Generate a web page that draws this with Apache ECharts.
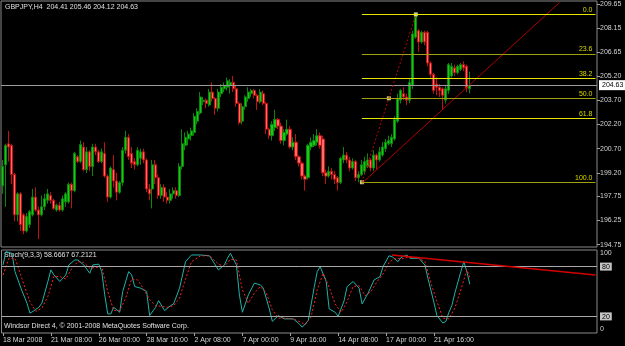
<!DOCTYPE html>
<html>
<head>
<meta charset="utf-8">
<script src="https://cdn.jsdelivr.net/npm/echarts@6/dist/echarts.min.js"></script>
<style>
html, body { margin: 0; padding: 0; background: #000; }
#main { width: 625px; height: 346px; }
</style>
</head>
<body>
<div id="main"></div>
<script>
// GBPJPY H4 bars: [open, high, low, close]
var ohlc = [
  [198.4, 200.0, 197.9, 199.6], [199.7, 201.0, 197.1, 200.9], [201.0, 201.8, 199.9, 200.8], [200.9, 201.0, 198.5, 199.1],
  [199.1, 199.2, 196.2, 196.6], [196.6, 198.0, 196.2, 197.9], [197.9, 198.0, 195.6, 196.0], [196.6, 196.7, 195.4, 195.6],
  [195.6, 196.7, 195.5, 196.5], [196.0, 196.9, 195.8, 196.8], [196.6, 198.2, 196.5, 197.7], [197.7, 198.3, 196.8, 196.9],
  [196.9, 197.1, 195.1, 196.6], [196.6, 197.8, 196.5, 197.1], [197.1, 197.9, 196.9, 197.6], [197.5, 198.2, 197.3, 197.9],
  [197.8, 198.0, 197.3, 197.5], [197.5, 197.6, 196.9, 197.0], [196.9, 197.3, 196.8, 197.2], [197.2, 197.4, 196.8, 196.9],
  [196.9, 197.8, 196.8, 197.6], [197.4, 198.0, 197.1, 197.9], [197.4, 198.6, 197.3, 198.5], [198.5, 198.6, 197.0, 198.1],
  [198.1, 200.5, 198.0, 200.4], [200.2, 200.3, 199.8, 199.9], [199.9, 201.2, 199.8, 200.95], [200.8, 201.1, 199.3, 199.4],
  [199.4, 200.8, 199.2, 200.5], [200.5, 200.6, 199.3, 199.6], [199.6, 201.0, 199.0, 200.8], [200.8, 201.0, 200.3, 200.5],
  [200.5, 200.6, 199.8, 199.9], [199.9, 200.7, 199.8, 200.5], [200.4, 201.1, 198.9, 199.0], [199.0, 199.1, 197.4, 197.7],
  [197.7, 199.6, 197.6, 199.5], [199.4, 200.3, 198.3, 198.7], [198.7, 199.2, 197.5, 198.0], [198.0, 198.7, 197.9, 198.6],
  [198.6, 200.8, 198.4, 200.6], [200.6, 201.8, 200.4, 201.4], [201.4, 201.6, 200.0, 200.2], [200.4, 200.8, 199.5, 199.8],
  [199.9, 200.1, 199.4, 199.7], [199.7, 200.8, 199.6, 200.6], [200.1, 200.7, 199.7, 200.5], [200.5, 200.7, 199.8, 200.0],
  [200.0, 200.1, 198.0, 198.2], [198.2, 198.5, 197.5, 197.9], [198.2, 200.0, 197.0, 199.7], [199.7, 200.0, 198.5, 198.9],
  [198.9, 199.1, 197.6, 197.8], [197.8, 198.5, 197.6, 198.3], [198.3, 198.5, 197.4, 197.7], [197.7, 198.0, 197.3, 197.5],
  [197.5, 198.2, 197.3, 197.9], [197.9, 198.3, 197.6, 198.1], [198.1, 198.3, 197.6, 197.8], [197.8, 199.8, 197.7, 199.6],
  [199.6, 201.9, 199.4, 201.0], [200.9, 201.7, 200.6, 201.4], [201.3, 201.8, 200.9, 201.6], [201.5, 202.0, 201.2, 201.8],
  [201.7, 202.9, 201.5, 202.7], [202.4, 203.2, 202.2, 203.0], [202.9, 204.2, 202.8, 203.9], [203.6, 203.9, 203.4, 203.7],
  [203.7, 203.8, 203.2, 203.5], [203.4, 204.4, 203.3, 204.2], [204.2, 204.8, 203.6, 203.8], [203.8, 203.9, 202.8, 203.2],
  [203.2, 204.4, 203.0, 204.2], [204.1, 204.7, 203.9, 204.5], [204.4, 204.8, 204.2, 204.6], [204.5, 205.1, 204.3, 204.9],
  [204.6, 205.0, 204.1, 204.8], [204.8, 205.2, 204.2, 204.4], [204.4, 204.6, 203.3, 203.5], [203.5, 203.6, 202.2, 202.3],
  [202.4, 203.5, 202.2, 203.3], [203.3, 204.0, 203.1, 203.9], [203.8, 204.5, 203.6, 204.2], [204.1, 204.4, 203.9, 204.3],
  [204.3, 204.4, 203.8, 204.0], [204.0, 204.1, 203.1, 203.6], [203.6, 204.4, 203.5, 204.2], [204.1, 204.3, 203.4, 203.5],
  [203.5, 203.6, 201.6, 201.9], [201.9, 202.0, 201.3, 201.5], [201.5, 202.4, 201.2, 202.2], [202.0, 203.1, 201.8, 202.5],
  [202.5, 202.6, 201.9, 202.1], [202.1, 202.3, 201.0, 201.2], [201.2, 201.9, 200.9, 201.7], [201.6, 202.5, 201.5, 201.9],
  [201.9, 202.1, 200.7, 200.8], [200.8, 201.4, 200.6, 201.1], [201.1, 201.6, 200.0, 200.2], [200.2, 200.3, 199.6, 199.8],
  [199.8, 199.9, 198.8, 199.0], [199.0, 199.1, 198.1, 198.8], [198.9, 201.0, 198.8, 200.9], [200.8, 201.4, 200.6, 201.1],
  [200.9, 201.6, 200.8, 201.2], [201.1, 201.9, 200.9, 201.5], [201.5, 201.7, 200.7, 200.9], [201.3, 201.5, 199.0, 199.2],
  [199.2, 199.4, 198.5, 199.0], [199.0, 199.6, 198.9, 199.3], [199.3, 199.5, 198.8, 199.1], [199.1, 199.3, 198.5, 198.8],
  [198.9, 199.0, 198.1, 198.6], [198.6, 200.2, 198.5, 200.1], [200.0, 200.8, 199.8, 200.3], [200.3, 200.5, 199.8, 200.0],
  [200.0, 200.2, 199.3, 199.5], [199.5, 200.1, 199.4, 199.9], [199.9, 200.0, 198.7, 198.9], [198.9, 199.3, 198.62, 199.1],
  [199.1, 200.0, 199.0, 199.7], [199.3, 200.2, 199.1, 199.9], [199.6, 200.4, 199.5, 200.0], [200.0, 200.1, 199.3, 199.5],
  [199.5, 200.6, 199.3, 200.3], [200.3, 200.4, 199.4, 200.0], [200.0, 200.8, 199.9, 200.5], [200.3, 201.1, 200.2, 200.8],
  [200.7, 201.3, 200.5, 201.1], [201.0, 201.5, 200.9, 201.2], [201.0, 201.6, 200.8, 201.4], [201.3, 202.7, 201.2, 202.5],
  [202.4, 204.1, 202.3, 203.8], [203.7, 204.4, 203.5, 204.3], [204.1, 204.5, 203.7, 203.9], [203.9, 204.1, 203.4, 203.7],
  [203.7, 205.0, 203.5, 204.8], [204.6, 208.0, 204.4, 207.8], [207.6, 209.01, 207.5, 208.9], [208.0, 208.1, 206.7, 207.3],
  [207.3, 208.0, 207.2, 207.9], [207.9, 208.0, 207.1, 207.3], [207.9, 208.0, 205.8, 206.0], [206.0, 206.1, 205.1, 205.3],
  [205.3, 205.4, 204.1, 204.3], [204.7, 205.1, 204.0, 204.5], [204.5, 204.7, 203.9, 204.3], [204.4, 204.5, 203.1, 204.0],
  [203.7, 204.6, 203.5, 204.4], [204.3, 206.0, 204.1, 205.9], [205.2, 206.0, 205.1, 205.8], [205.7, 205.9, 205.2, 205.4],
  [205.4, 205.9, 205.3, 205.8], [205.6, 206.0, 205.5, 205.9], [205.9, 206.1, 205.5, 205.7], [205.8, 205.9, 204.2, 204.45],
  [204.41, 205.46, 204.12, 204.63]
];

// Stochastic (9,3,3): [bar index, value]
var stochK = [
  [0, 82], [1, 98], [3, 96], [4, 74], [6, 54], [8, 36], [9, 24], [10, 26], [12, 31], [13, 36], [15, 62], [16, 76],
  [17, 70], [19, 62], [21, 70], [22, 82], [24, 88], [25, 88], [27, 82], [29, 72], [30, 82], [32, 83], [33, 74], [34, 46],
  [35, 23], [36, 23], [37, 31], [39, 25], [40, 50], [42, 74], [43, 70], [44, 56], [46, 54], [48, 50], [49, 21], [51, 31],
  [52, 39], [54, 27], [56, 33], [57, 35], [59, 54], [61, 86], [63, 94], [66, 94], [69, 93], [72, 76], [74, 82], [75, 90],
  [76, 96], [78, 82], [79, 46], [80, 25], [82, 46], [84, 60], [86, 58], [87, 54], [89, 29], [90, 14], [92, 21], [94, 17],
  [97, 17], [99, 11], [100, 7], [102, 15], [103, 35], [104, 55], [105, 74], [106, 80], [108, 62], [109, 29], [111, 25],
  [112, 20], [114, 39], [115, 56], [117, 62], [119, 54], [120, 35], [122, 48], [124, 64], [126, 68], [127, 80], [129, 93],
  [130, 92], [132, 86], [133, 91], [135, 94], [136, 90], [139, 90], [141, 82], [142, 66], [144, 37], [145, 21], [147, 12],
  [148, 14], [149, 25], [150, 33], [151, 48], [153, 74], [154, 86], [155, 74], [156, 58.67]
];
var stochD = [
  [0, 70], [2, 90], [4, 90], [5, 80], [7, 58], [9, 38], [11, 26], [13, 30], [15, 44], [17, 68], [19, 68], [21, 65],
  [23, 78], [25, 86], [27, 85], [29, 78], [31, 79], [33, 80], [35, 50], [37, 27], [39, 27], [41, 42], [43, 65], [45, 64],
  [47, 53], [49, 40], [51, 33], [53, 32], [55, 31], [57, 33], [59, 42], [61, 65], [63, 86], [66, 93], [69, 93], [72, 83],
  [74, 80], [76, 89], [78, 88], [80, 52], [82, 36], [84, 48], [86, 56], [88, 48], [90, 28], [92, 18], [94, 18], [97, 17],
  [99, 14], [101, 10], [103, 20], [105, 52], [107, 72], [109, 55], [111, 35], [113, 25], [115, 38], [117, 56], [119, 57],
  [121, 45], [123, 50], [125, 62], [127, 71], [129, 85], [131, 90], [133, 89], [135, 91], [137, 91], [139, 90], [141, 86],
  [143, 60], [145, 38], [147, 18], [149, 17], [151, 30], [153, 52], [155, 76], [156, 67.21]
];

var priceTicks = [209.65, 208.15, 206.65, 205.20, 203.70, 202.20, 200.70, 199.20, 197.75, 196.25, 194.75];
var stochTicks = [100, 80, 20, 0];
var timeLabels = [
  [0, '18 Mar 2008'], [16, '21 Mar 08:00'], [32, '26 Mar 00:00'], [48, '28 Mar 16:00'], [64, '2 Apr 08:00'],
  [80, '7 Apr 00:00'], [96, '9 Apr 16:00'], [112, '14 Apr 08:00'], [128, '17 Apr 00:00'], [144, '21 Apr 16:00']
];

// drawn objects
var fibLow = [120, 198.62];
var fibHigh = [138, 209.01];
var fibRatios = [0, 23.6, 38.2, 50, 61.8, 100];
var trendMain = [[120, 198.55], [186, 209.75]];
var trendStoch = [[130, 94], [198, 69.8]];
var lastPrice = 204.63;
var slots = 199;

var font = 'Liberation Sans';
var myChart = echarts.init(document.getElementById('main'));

var cats = [];
for (var i = 0; i < slots; i++) cats.push(i);
var labelAt = {};
timeLabels.forEach(function (t) { labelAt[t[0]] = t[1]; });

var candles = ohlc.map(function (b) { return [b[0], b[3], b[2], b[1]]; });

// fibo retracement lines
var fibLines = fibRatios.map(function (r, k) {
  var lvl = fibHigh[1] - r / 100 * (fibHigh[1] - fibLow[1]);
  var bright = (k % 2 === 0);
  return [
    { coord: [fibLow[0], lvl], lineStyle: { color: bright ? '#e6e600' : '#a0a010', width: 1, type: 'solid' },
      label: { show: true, position: 'insideEndTop', distance: [3, 1], formatter: r.toFixed(1), color: '#d8d800', fontSize: 7, fontFamily: font } },
    { coord: [slots - 1, lvl] }
  ];
});
var fibAnchors = [fibLow, [(fibLow[0] + fibHigh[0]) / 2, (fibLow[1] + fibHigh[1]) / 2], fibHigh];

var mainLines = [
  { yAxis: lastPrice, lineStyle: { color: '#9a9a9a', width: 1, type: 'solid' },
    label: { show: true, position: 'end', distance: 2, formatter: lastPrice.toFixed(2), color: '#000',
      backgroundColor: '#ffffff', padding: [2, 3, 1, 3], fontSize: 7, fontFamily: font } },
  [{ coord: fibLow, lineStyle: { color: '#c00000', width: 1, type: [2, 2] } }, { coord: fibHigh }],
  [{ coord: trendMain[0], lineStyle: { color: '#b00000', width: 1, type: 'solid' } }, { coord: trendMain[1] }]
].concat(fibLines);

var timeInterval = function (idx) { return labelAt[idx] !== undefined; };

option = {
  animation: false,
  backgroundColor: '#000',
  grid: [
    { left: 1, right: 28, top: 1, height: 246, show: true, borderColor: '#8a8a8a', borderWidth: 1, backgroundColor: '#000' },
    { left: 1, right: 28, top: 250, bottom: 13, show: true, borderColor: '#8a8a8a', borderWidth: 1, backgroundColor: '#000' }
  ],
  xAxis: [
    { type: 'category', gridIndex: 0, data: cats, boundaryGap: true, show: false },
    { type: 'category', gridIndex: 1, data: cats, boundaryGap: true,
      axisLine: { show: false },
      axisTick: { show: true, alignWithLabel: true, interval: timeInterval, length: 3, lineStyle: { color: '#a0a0a0' } },
      axisLabel: { interval: timeInterval, formatter: function (v, idx) { return labelAt[idx] || ''; },
        align: 'left', color: '#d4d4d4', fontSize: 7, fontFamily: font, margin: 4 } }
  ],
  yAxis: [
    { type: 'value', gridIndex: 0, position: 'right', min: 194.61, max: 209.84, scale: true,
      splitLine: { show: false }, axisLine: { show: false },
      axisTick: { show: true, customValues: priceTicks, length: 3, lineStyle: { color: '#a0a0a0' } },
      axisLabel: { customValues: priceTicks, formatter: function (v) { return v.toFixed(2); },
        color: '#d4d4d4', fontSize: 7, fontFamily: font, margin: 3 } },
    { type: 'value', gridIndex: 1, position: 'right', min: 0, max: 100,
      splitLine: { show: false }, axisLine: { show: false },
      axisTick: { show: false },
      axisLabel: { customValues: stochTicks, margin: 3, color: '#d4d4d4', fontSize: 7, fontFamily: font,
        formatter: function (v) {
          if (v === 100) return '{top|100}';
          if (v === 0) return '{bot|0}';
          return '{box|' + v + '}';
        },
        rich: {
          top: { padding: [7, 0, 0, 0], color: '#d4d4d4', fontSize: 7, fontFamily: font },
          bot: { padding: [0, 0, 7, 0], color: '#d4d4d4', fontSize: 7, fontFamily: font },
          box: { backgroundColor: '#c4c4c4', color: '#000', padding: [1, 2, 0, 2], fontSize: 7, fontFamily: font }
        } } }
  ],
  graphic: [
    { type: 'text', left: 5, top: 4, style: { text: 'GBPJPY,H4  204.41 205.46 204.12 204.63', fill: '#e0e0e0', fontSize: 7, fontFamily: font } },
    { type: 'text', left: 4, top: 252, style: { text: 'Stoch(9,3,3) 58.6667 67.2121', fill: '#e0e0e0', fontSize: 7, fontFamily: font } },
    { type: 'text', left: 4, top: 323, style: { text: 'Windsor Direct 4, \u00a9 2001-2008 MetaQuotes Software Corp.', fill: '#e0e0e0', fontSize: 7, fontFamily: font } }
  ],
  series: [
    {
      name: 'GBPJPY', type: 'candlestick', xAxisIndex: 0, yAxisIndex: 0,
      data: candles, barWidth: 2.6,
      itemStyle: { color: '#18c818', color0: '#ff6a6a', borderColor: '#0a880a', borderColor0: '#c41010', borderWidth: 1 },
      markLine: { silent: true, symbol: 'none', animation: false, data: mainLines }
    },
    {
      name: 'anchors', type: 'scatter', xAxisIndex: 0, yAxisIndex: 0, symbol: 'rect', symbolSize: 4,
      itemStyle: { color: '#ffffa0' }, data: fibAnchors, silent: true
    },
    {
      name: 'K', type: 'line', xAxisIndex: 1, yAxisIndex: 1, data: stochK, showSymbol: false,
      lineStyle: { color: '#20b2aa', width: 1 },
      markLine: { silent: true, symbol: 'none', animation: false, label: { show: false },
        data: [
          { yAxis: 80, lineStyle: { color: '#a8a8a8', width: 1, type: 'solid' } },
          { yAxis: 20, lineStyle: { color: '#a8a8a8', width: 1, type: 'solid' } },
          [{ coord: trendStoch[0], lineStyle: { color: '#d40000', width: 1.5, type: 'solid' } }, { coord: trendStoch[1] }]
        ] }
    },
    {
      name: 'D', type: 'line', xAxisIndex: 1, yAxisIndex: 1, data: stochD, showSymbol: false,
      lineStyle: { color: '#ff2020', width: 1, type: [2, 2] }
    }
  ]
};

myChart.setOption(option);
</script>
</body>
</html>
